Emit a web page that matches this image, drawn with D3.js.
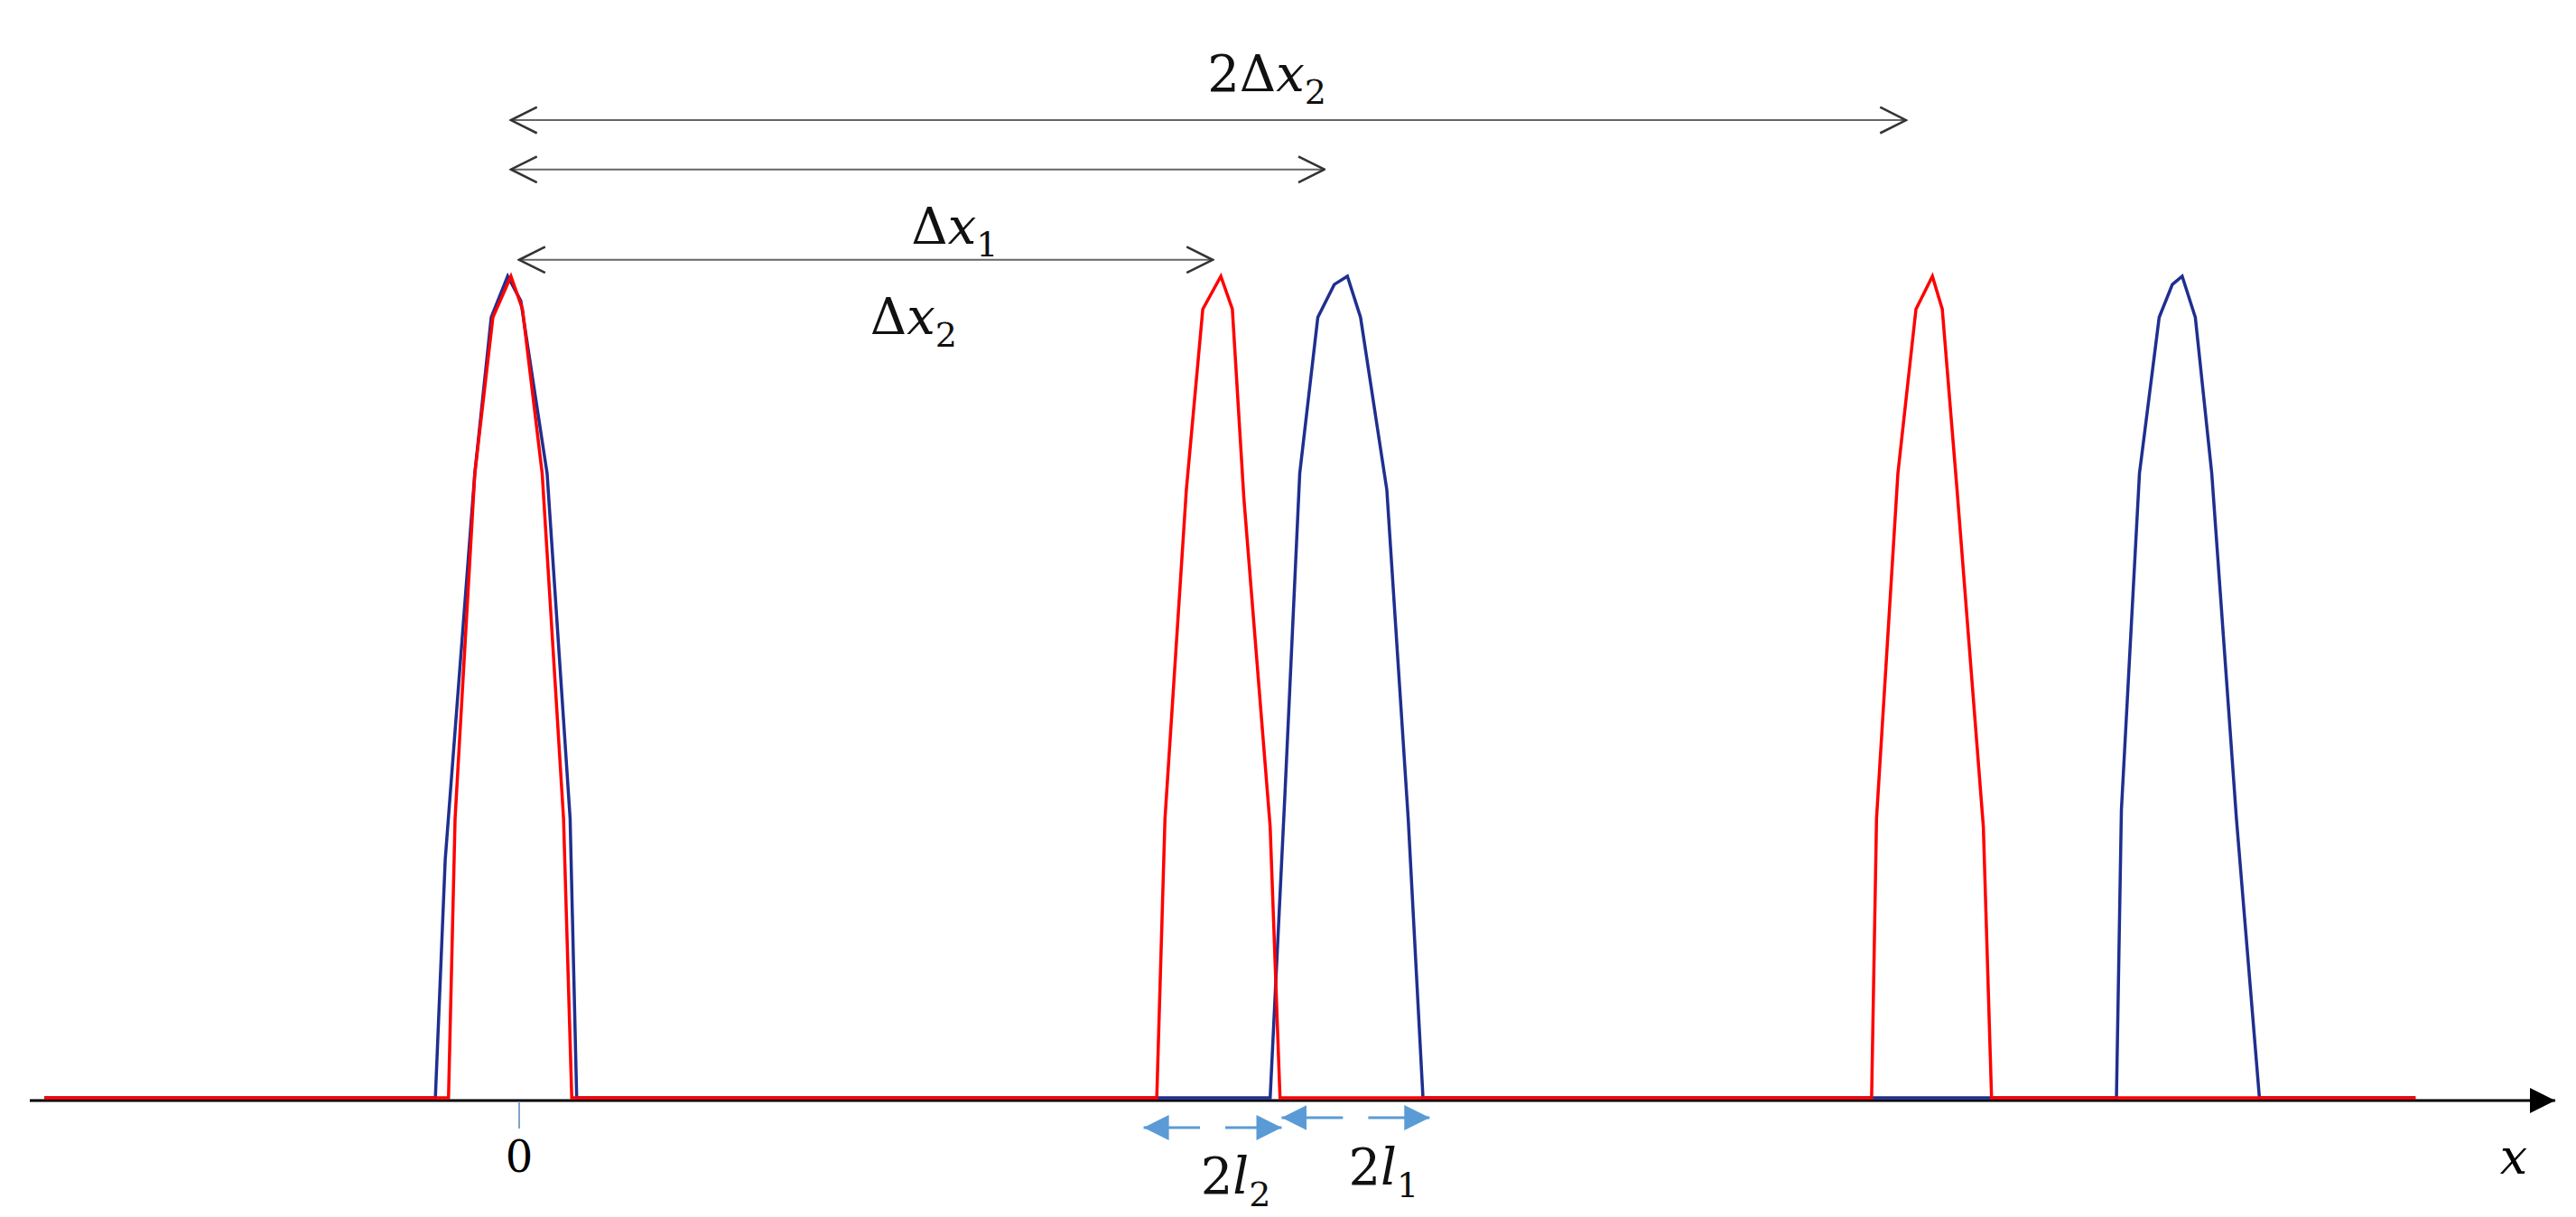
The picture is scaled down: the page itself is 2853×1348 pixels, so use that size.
<!DOCTYPE html>
<html><head><meta charset="utf-8">
<script src="https://cdn.jsdelivr.net/npm/d3@7"></script>
<style>body{margin:0;background:#fff}</style>
</head><body>
<script>
// Data (x in arbitrary units, 0 at the "0" tick; y normalized intensity)
const blueX=[-28.9,-5.1,-4.5,-2.7,-1.7,-0.7,0.1,1.7,3.1,3.5,45.7,46.6,47.5,48.6,49.6,50.4,51.2,52.8,54.1,55.0,97.2,97.5,98.6,99.8,100.6,101.2,102.0,103.0,104.5,105.9,115.4];
const blueY=[0,0,0.29,0.76,0.95,1,0.97,0.76,0.34,0,0,0.37,0.76,0.95,0.99,1,0.95,0.74,0.34,0,0,0.35,0.76,0.95,0.99,1,0.95,0.76,0.34,0,0];
const redX=[-28.9,-4.3,-3.9,-2.7,-1.6,-0.5,0.2,1.4,2.7,3.2,38.8,39.3,40.6,41.6,42.7,43.4,44.1,45.7,46.3,82.3,82.6,83.9,85.0,86.0,86.6,87.5,89.1,89.6,115.4];
const redY=[0,0,0.34,0.76,0.95,1,0.96,0.76,0.34,0,0,0.34,0.74,0.96,1,0.96,0.73,0.33,0,0,0.34,0.76,0.96,1,0.96,0.74,0.33,0,0];
const spanLabels=["2Δx","Δx","Δx"];
const spanSubs=["2","1","2"];
const spanFrom=[-0.5,-0.5,0];
const spanTo=[84.4,49.0,42.2];
const spanLevel=[1.19,1.13,1.02];
const labelLevel=[1.225,1.04,0.93];
const widthFrom=[38.0,46.4], widthTo=[46.4,55.4], widthLabels=["l","l"], widthSubs=["2","1"];

const W=2853,H=1348;
const svg=d3.select("body").append("svg").attr("width",W).attr("height",H);
const x=d3.scaleLinear().domain([-30,125]).range([29,2850]);
const y=d3.scaleLinear().domain([0,1]).range([1216,306]);
const defs=svg.append("defs");
defs.append("marker").attr("id","open").attr("viewBox","0 0 20 20").attr("refX",19).attr("refY",10)
 .attr("markerWidth",32).attr("markerHeight",32).attr("markerUnits","userSpaceOnUse").attr("orient","auto-start-reverse")
 .append("path").attr("d","M1,1 L19,10 L1,19").attr("fill","none").attr("stroke","#333").attr("stroke-width",1.6);
defs.append("marker").attr("id","blueTri").attr("viewBox","0 0 20 20").attr("refX",20).attr("refY",10)
 .attr("markerWidth",28).attr("markerHeight",28).attr("markerUnits","userSpaceOnUse").attr("orient","auto-start-reverse")
 .append("path").attr("d","M0,0 L20,10 L0,20 Z").attr("fill","#5b9bd5");
defs.append("marker").attr("id","axArrow").attr("viewBox","0 0 20 20").attr("refX",20).attr("refY",10)
 .attr("markerWidth",28).attr("markerHeight",28).attr("markerUnits","userSpaceOnUse").attr("orient","auto")
 .append("path").attr("d","M0,0 L20,10 L0,20 Z").attr("fill","#000");

// axis
svg.append("line").attr("x1",33).attr("x2",2830).attr("y1",y(0)+3).attr("y2",y(0)+3)
 .attr("stroke","#000").attr("stroke-width",3).attr("marker-end","url(#axArrow)");
svg.append("line").attr("x1",x(0)).attr("x2",x(0)).attr("y1",y(0)+4).attr("y2",y(0)+34).attr("stroke","#7fa3c8").attr("stroke-width",2);

const line=d3.line().x(d=>x(d[0])).y(d=>y(d[1]));
svg.append("path").datum(d3.zip(blueX,blueY)).attr("d",line).attr("fill","none").attr("stroke","#1f2f8f").attr("stroke-width",3.5);
svg.append("path").datum(d3.zip(redX,redY)).attr("d",line).attr("fill","none").attr("stroke","#ff0000").attr("stroke-width",3.5);

const font="'DejaVu Serif', 'Liberation Serif', serif";
// span arrows
spanFrom.forEach((f,i)=>{
  svg.append("line").attr("x1",x(f)).attr("x2",x(spanTo[i])).attr("y1",y(spanLevel[i])).attr("y2",y(spanLevel[i]))
   .attr("stroke","#666").attr("stroke-width",2).attr("marker-start","url(#open)").attr("marker-end","url(#open)");
});
const lblX=[45.5,26.5,24.0];
spanLabels.forEach((s,i)=>{
  const t=svg.append("text").attr("x",x(lblX[i])).attr("y",y(labelLevel[i])).attr("text-anchor","middle")
    .attr("font-family",font).attr("font-size",56).attr("fill","#111");
  t.append("tspan").text(s.replace("x","")).attr("font-style","normal");
  t.append("tspan").text("x").attr("font-style","italic");
  t.append("tspan").text(spanSubs[i]).attr("font-size",38).attr("dy",14);
});
// width arrows (blue, dashed middle)
const wy=[1249,1238];
widthFrom.forEach((f,i)=>{
  const a=x(f),b=x(widthTo[i]),m=(a+b)/2;
  svg.append("line").attr("x1",m-14).attr("x2",a).attr("y1",wy[i]).attr("y2",wy[i]).attr("stroke","#5b9bd5").attr("stroke-width",3).attr("marker-end","url(#blueTri)");
  svg.append("line").attr("x1",m+14).attr("x2",b).attr("y1",wy[i]).attr("y2",wy[i]).attr("stroke","#5b9bd5").attr("stroke-width",3).attr("marker-end","url(#blueTri)");
});
const wlx=[43.6,52.6], wly=[1322,1312];
widthLabels.forEach((s,i)=>{
  const t=svg.append("text").attr("x",x(wlx[i])).attr("y",wly[i]).attr("text-anchor","middle")
    .attr("font-family",font).attr("font-size",56).attr("fill","#111");
  t.append("tspan").text("2");
  t.append("tspan").text(s).attr("font-style","italic");
  t.append("tspan").text(widthSubs[i]).attr("font-size",38).attr("dy",14);
});
svg.append("text").attr("x",x(0)).attr("y",1298).attr("text-anchor","middle").attr("font-family",font).attr("font-size",48).text("0");
svg.append("text").attr("x",2784).attr("y",1300).attr("text-anchor","middle").attr("font-family",font).attr("font-style","italic").attr("font-size",54).text("x");
</script>
</body></html>
